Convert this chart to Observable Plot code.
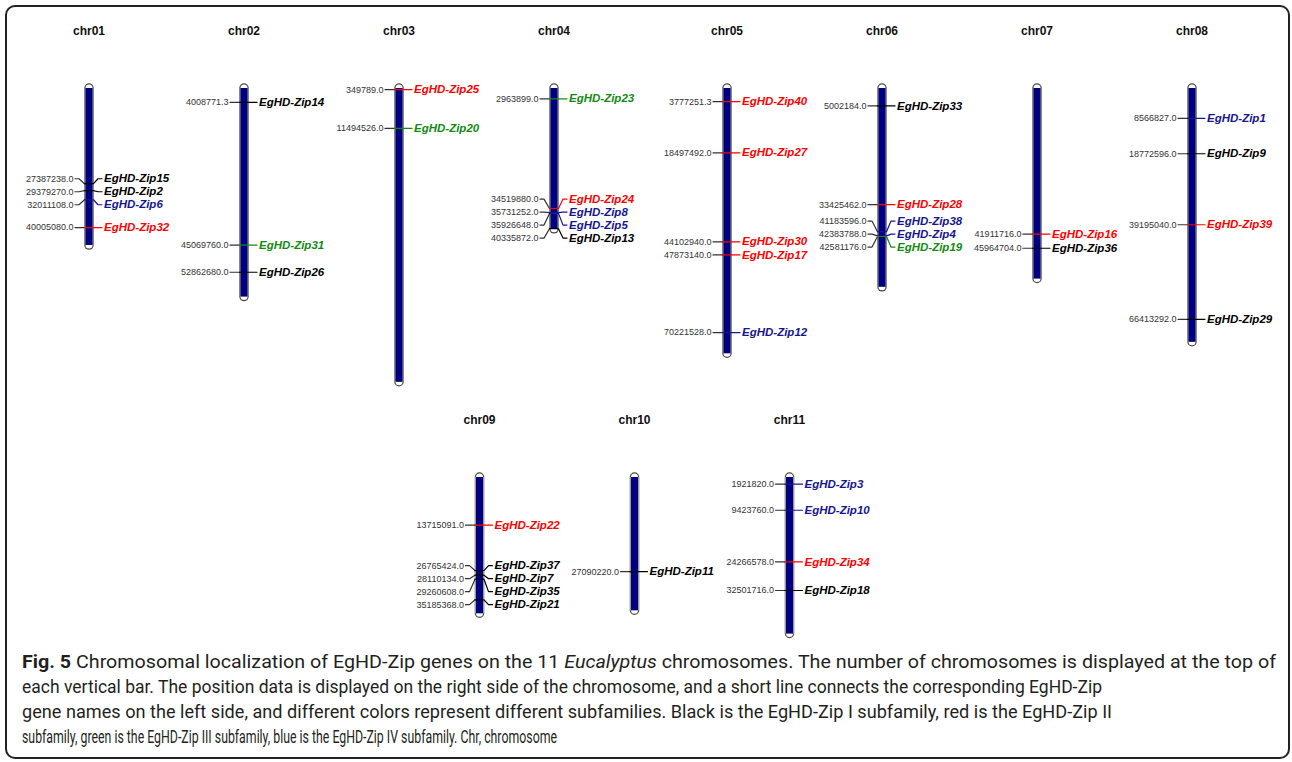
<!DOCTYPE html>
<html>
<head>
<meta charset="utf-8">
<script src="https://cdn.jsdelivr.net/npm/d3@7"></script>
<script src="https://cdn.jsdelivr.net/npm/@observablehq/plot@0.6"></script>
<style>
  html, body { margin: 0; padding: 0; background: #ffffff; }
  body { width: 1292px; height: 762px; overflow: hidden; position: relative; font-family: "Liberation Sans", Arial, sans-serif; }
  #frame { position: absolute; left: 5px; top: 5px; width: 1285px; height: 754px; border: 2px solid #222; border-radius: 10px; box-sizing: border-box; }
  #row1 { position: absolute; left: 0; top: 0; }
  #row2 { position: absolute; left: 0; top: 389px; }
  #caption { position: absolute; left: 0; top: 640px; }
</style>
</head>
<body>
<div id="frame"></div>
<div id="row1"></div>
<div id="row2"></div>
<svg id="caption" width="1292" height="122"></svg>
<script>
// ---------------- DATA ----------------
const chromosomes   = ["chr01","chr02","chr03","chr04","chr05","chr06","chr07","chr08","chr09","chr10","chr11"];
const chromLengthMb = [45.2, 60.0, 84.5, 40.5, 76.3, 57.2, 54.8, 73.0, 39.2, 38.3, 45.0];
const firstRowChroms  = ["chr01","chr02","chr03","chr04","chr05","chr06","chr07","chr08"];
const secondRowChroms = ["chr09","chr10","chr11"];

const geneNames = [
  "EgHD-Zip15","EgHD-Zip2","EgHD-Zip6","EgHD-Zip32",
  "EgHD-Zip14","EgHD-Zip31","EgHD-Zip26",
  "EgHD-Zip25","EgHD-Zip20",
  "EgHD-Zip23","EgHD-Zip24","EgHD-Zip8","EgHD-Zip5","EgHD-Zip13",
  "EgHD-Zip40","EgHD-Zip27","EgHD-Zip30","EgHD-Zip17","EgHD-Zip12",
  "EgHD-Zip33","EgHD-Zip28","EgHD-Zip38","EgHD-Zip4","EgHD-Zip19",
  "EgHD-Zip16","EgHD-Zip36",
  "EgHD-Zip1","EgHD-Zip9","EgHD-Zip39","EgHD-Zip29",
  "EgHD-Zip22","EgHD-Zip37","EgHD-Zip7","EgHD-Zip35","EgHD-Zip21",
  "EgHD-Zip11",
  "EgHD-Zip3","EgHD-Zip10","EgHD-Zip34","EgHD-Zip18"
];
const geneChromosomes = [
  "chr01","chr01","chr01","chr01",
  "chr02","chr02","chr02",
  "chr03","chr03",
  "chr04","chr04","chr04","chr04","chr04",
  "chr05","chr05","chr05","chr05","chr05",
  "chr06","chr06","chr06","chr06","chr06",
  "chr07","chr07",
  "chr08","chr08","chr08","chr08",
  "chr09","chr09","chr09","chr09","chr09",
  "chr10",
  "chr11","chr11","chr11","chr11"
];
const genePositions = [
  27387238.0, 29379270.0, 32011108.0, 40005080.0,
  4008771.3, 45069760.0, 52862680.0,
  349789.0, 11494526.0,
  2963899.0, 34519880.0, 35731252.0, 35926648.0, 40335872.0,
  3777251.3, 18497492.0, 44102940.0, 47873140.0, 70221528.0,
  5002184.0, 33425462.0, 41183596.0, 42383788.0, 42581176.0,
  41911716.0, 45964704.0,
  8566827.0, 18772596.0, 39195040.0, 66413292.0,
  13715091.0, 26765424.0, 28110134.0, 29260608.0, 35185368.0,
  27090220.0,
  1921820.0, 9423760.0, 24266578.0, 32501716.0
];
const geneSubfamilies = [
  "I","I","IV","II",
  "I","III","I",
  "II","III",
  "III","II","IV","IV","I",
  "II","II","II","II","IV",
  "I","II","IV","IV","III",
  "II","I",
  "IV","I","II","I",
  "II","I","I","I","I",
  "I",
  "IV","IV","II","I"
];
const subfamilies     = ["I","II","III","IV"];
const subfamilyColors = ["#000000","#ff0000","#138a13","#16168c"];

// ---------------- LAYOUT (styles / geometry) ----------------
const W = 1292;
const pxPerMb = 3.476;
const yDomain = [0, 85];
const y0px = 88;
const rowHeights = [389, 251];
const spacing = 155;
function centerOf(chrom) {
  let i = firstRowChroms.indexOf(chrom);
  if (i >= 0) return 88.5 + i * spacing + (i >= 4 ? 18 : 0);
  i = secondRowChroms.indexOf(chrom);
  return 479 + i * spacing;
}
const minGapMb = 13 / pxPerMb;

// genes table
const genes = geneNames.map((name, i) => ({
  name, chrom: geneChromosomes[i], posMb: genePositions[i] / 1e6,
  posLabel: genePositions[i].toFixed(1), sub: geneSubfamilies[i]
}));

// label de-overlap per chromosome (clusters centred on their span)
for (const c of chromosomes) {
  const items = genes.filter(g => g.chrom === c).sort((a, b) => a.posMb - b.posMb);
  const groups = items.map(d => ({members: [d]}));
  const place = g => {
    const lo = g.members[0].posMb, hi = g.members[g.members.length - 1].posMb;
    const mid = (lo + hi) / 2, n = g.members.length;
    g.members.forEach((m, k) => m.labMb = mid + (k - (n - 1) / 2) * minGapMb);
  };
  groups.forEach(place);
  let changed = true;
  while (changed) {
    changed = false;
    for (let k = 0; k < groups.length - 1; k++) {
      const a = groups[k], b = groups[k + 1];
      if (b.members[0].labMb - a.members[a.members.length - 1].labMb < minGapMb - 1e-9) {
        a.members = a.members.concat(b.members);
        groups.splice(k + 1, 1);
        place(a);
        changed = true;
        break;
      }
    }
  }
}

function drawRow(rowChroms) {
  const chromData = rowChroms.map(c => ({
    name: c, len: chromLengthMb[chromosomes.indexOf(c)], cx: centerOf(c)
  }));
  const rowGenes = genes.filter(g => rowChroms.includes(g.chrom)).map(g => ({...g, cx: centerOf(g.chrom)}));
  const leftPts = rowGenes.flatMap(g => [
    {id: g.name, x: g.cx - 14, y: g.labMb},
    {id: g.name, x: g.cx - 10, y: g.labMb},
    {id: g.name, x: g.cx - 4.5, y: g.posMb}
  ]);
  const rightPts = rowGenes.flatMap(g => [
    {id: g.name, sub: g.sub, x: g.cx - 4.5, y: g.posMb},
    {id: g.name, sub: g.sub, x: g.cx + 4.5, y: g.posMb},
    {id: g.name, sub: g.sub, x: g.cx + 9, y: g.labMb},
    {id: g.name, sub: g.sub, x: g.cx + 13, y: g.labMb}
  ]);
  const h = rowHeights[rowChroms === firstRowChroms ? 0 : 1];
  return Plot.plot({
    width: W, height: h,
    marginTop: 0, marginRight: 0, marginBottom: 0, marginLeft: 0,
    x: {type: "linear", domain: [0, W], range: [0, W], axis: null},
    y: {domain: yDomain, range: [y0px, y0px + yDomain[1] * pxPerMb], axis: null},
    color: {domain: subfamilies, range: subfamilyColors},
    style: {fontFamily: "'Liberation Sans', Arial, sans-serif", background: "transparent", overflow: "visible"},
    marks: [
      Plot.text(chromData, {x: "cx", frameAnchor: "top", lineAnchor: "middle", dy: 30.5, text: "name", fontSize: 12, fontWeight: "bold", fill: "#111"}),
      Plot.ruleX(chromData, {x: "cx", y1: 0, y2: "len", stroke: "#4a4a4a", strokeWidth: 9.5, strokeLinecap: "round"}),
      Plot.ruleX(chromData, {x: "cx", y1: 0, y2: "len", stroke: "#ffffff", strokeWidth: 7, strokeLinecap: "round"}),
      Plot.ruleX(chromData, {x: "cx", y1: 0, y2: "len", stroke: "#9a9a9a", strokeWidth: 9, strokeLinecap: "butt"}),
      Plot.ruleX(chromData, {x: "cx", y1: 0, y2: "len", stroke: "#000080", strokeWidth: 7, strokeLinecap: "butt"}),
      Plot.line(leftPts, {x: "x", y: "y", z: "id", stroke: "#333", strokeWidth: 1.2}),
      Plot.line(rightPts, {x: "x", y: "y", z: "id", stroke: "sub", strokeWidth: 1.2}),
      Plot.text(rowGenes, {x: d => d.cx - 15.5, y: "labMb", text: "posLabel", textAnchor: "end", fontSize: 9, fill: "#333"}),
      Plot.text(rowGenes, {x: d => d.cx + 15, y: "labMb", text: "name", textAnchor: "start", fontSize: 11.5, fontWeight: "bold", fontStyle: "italic", fill: "sub"})
    ]
  });
}

document.getElementById("row1").appendChild(drawRow(firstRowChroms));
document.getElementById("row2").appendChild(drawRow(secondRowChroms));

// ---------------- CAPTION ----------------
const captionLines = [
  [["b","Fig. 5"],["n"," Chromosomal localization of EgHD-Zip genes on the 11 "],["i","Eucalyptus"],["n"," chromosomes. The number of chromosomes is displayed at the top of"]],
  [["n","each vertical bar. The position data is displayed on the right side of the chromosome, and a short line connects the corresponding EgHD-Zip"]],
  [["n","gene names on the left side, and different colors represent different subfamilies. Black is the EgHD-Zip I subfamily, red is the EgHD-Zip II"]],
  [["n","subfamily, green is the EgHD-Zip III subfamily, blue is the EgHD-Zip IV subfamily. Chr, chromosome"]]
];
const captionWidths = [1254, 1080, 1090, 535];
const cap = d3.select("#caption");
captionLines.forEach((parts, i) => {
  const t = cap.append("text")
    .attr("x", 22).attr("y", 28 + i * 25)
    .attr("textLength", captionWidths[i]).attr("lengthAdjust", "spacingAndGlyphs")
    .style("font-family", "Roboto, 'Noto Sans', sans-serif")
    .style("font-size", "18.5px").style("fill", "#231f20");
  parts.forEach(([k, s]) => {
    const ts = t.append("tspan").text(s);
    if (k === "b") ts.style("font-weight", "bold");
    if (k === "i") ts.style("font-style", "italic");
  });
});
</script>
</body>
</html>
